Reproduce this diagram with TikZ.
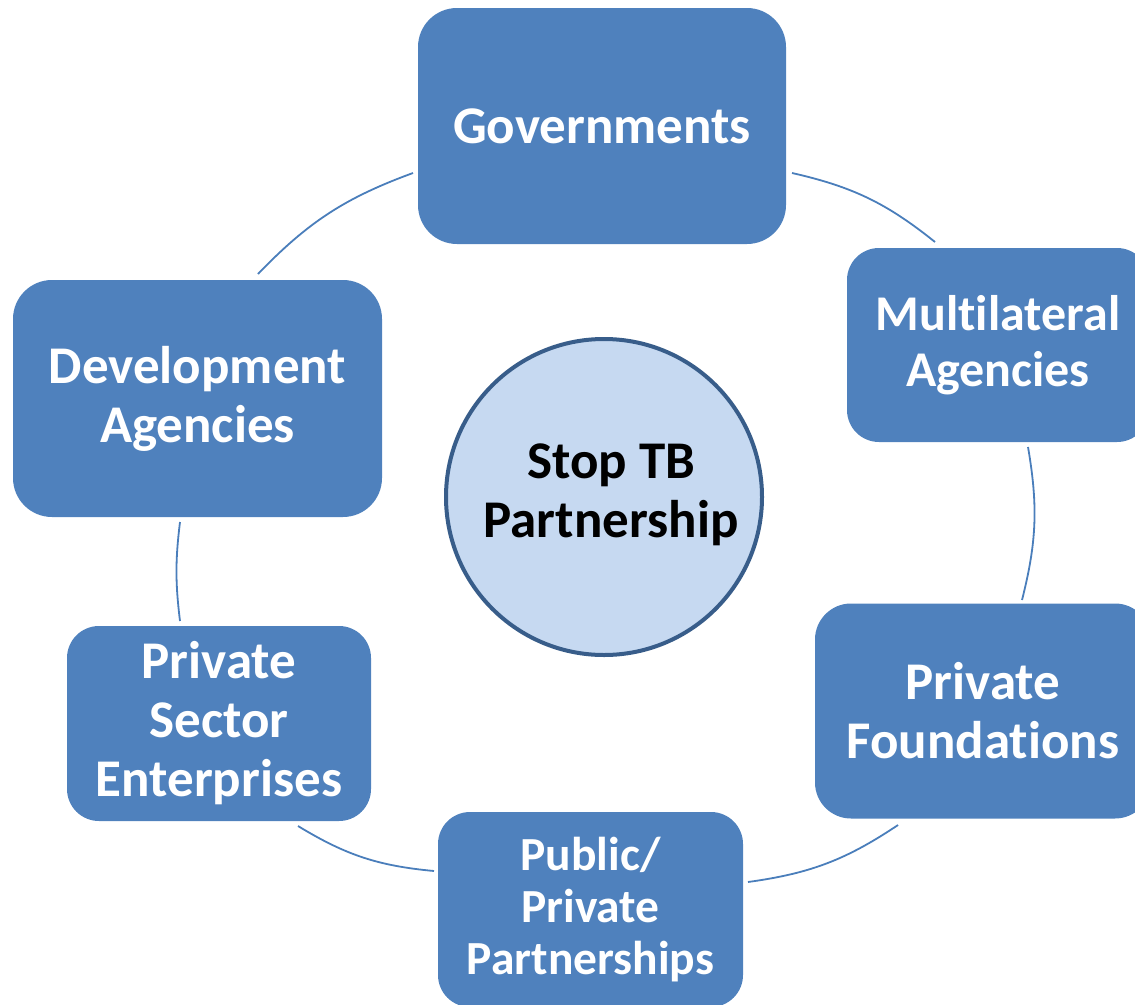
\documentclass[tikz,border=0pt]{standalone}
\usepackage{fontspec}
\setmainfont{Carlito}[Ligatures=NoCommon]
\definecolor{boxblue}{HTML}{4F81BD}
\definecolor{hubfill}{HTML}{C6D9F1}
\definecolor{hubline}{HTML}{385D8A}
\definecolor{arcblue}{HTML}{4A7EBB}
\begin{document}
\begin{tikzpicture}[x=1pt,y=-1pt,
  box/.style={draw=none, fill=boxblue, rounded corners=#1, text=white,
    font=\bfseries\fontsize{53}{59}\selectfont, align=center, inner sep=0pt},
  hub/.style={circle, draw=hubline, line width=4pt, fill=hubfill,
    inner sep=0pt, minimum size=316pt},
  hubtext/.style={text=black, font=\bfseries\fontsize{53}{59}\selectfont,
    align=center, inner sep=0pt},
  ring/.style={draw=arcblue, line width=1.8pt}]
\useasboundingbox (0,0) rectangle (1135,1004);
\clip (0,0) rectangle (1135,1004);

\node[box=39pt, minimum width=368pt, minimum height=236pt] (gov) at (602,126) {Governments};
\node[box=32pt, minimum width=302pt, minimum height=194pt, font=\bfseries\fontsize{50}{56}\selectfont] (multi) at (998,345) {Multilateral\\Agencies};
\node[box=36pt, minimum width=336pt, minimum height=215pt] (found) at (983,711) {Private\\Foundations};
\node[box=32pt, minimum width=305pt, minimum height=195pt, font=\bfseries\fontsize{47.5}{52}\selectfont] (ppp) at (590.5,909.5) {Public/\\Private\\Partnerships};
\node[box=32pt, minimum width=304pt, minimum height=195pt] (pse) at (219,723.5) {Private\\Sector\\Enterprises};
\node[box=39pt, minimum width=369pt, minimum height=237pt] (dev) at (197.5,398.5) {Development\\Agencies};
\node[hub, label={[hubtext, xshift=7pt, yshift=2pt]center:{Stop TB\\Partnership}}] (core) at (604,497) {};

\coordinate (a1s) at (258,274); \coordinate (a1e) at (413,173);
\coordinate (a2s) at (792,173); \coordinate (a2e) at (935,242);
\coordinate (a3s) at (1028,447); \coordinate (a3e) at (1022,600);
\coordinate (a4s) at (898,825); \coordinate (a4e) at (748,882);
\coordinate (a5s) at (434,871); \coordinate (a5e) at (298,826);
\coordinate (a6s) at (180,621); \coordinate (a6e) at (180,522);

\draw[ring] (a1s) to[bend left=13] (a1e);
\draw[ring] (a2s) to[bend left=13] (a2e);
\draw[ring] (a3s) to[bend left=12] (a3e);
\draw[ring] (a4s) to[bend left=13] (a4e);
\draw[ring] (a5s) to[bend left=13] (a5e);
\draw[ring] (a6s) to[bend left=7] (a6e);
\end{tikzpicture}
\end{document}
